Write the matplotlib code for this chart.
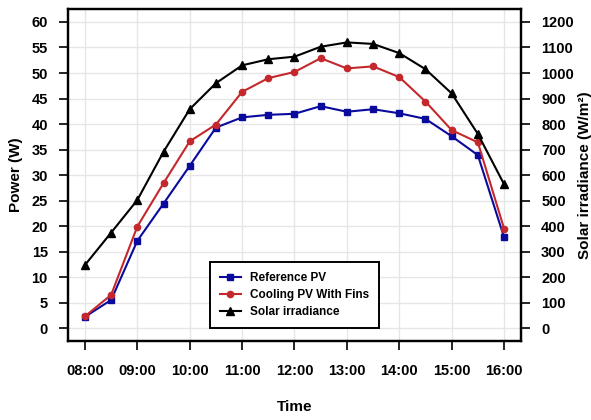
import matplotlib.pyplot as plt

plt.rcParams['font.family'] = ['Liberation Sans', 'DejaVu Sans']
plt.rcParams['font.weight'] = 'bold'

# half-hourly readings
times = ['08:00', '08:30', '09:00', '09:30', '10:00', '10:30', '11:00', '11:30',
         '12:00', '12:30', '13:00', '13:30', '14:00', '14:30', '15:00', '15:30', '16:00']
reference_pv = [2.2, 5.5, 17.1, 24.4, 31.8, 39.3, 41.3, 41.8, 42.0, 43.5,
                42.4, 42.9, 42.1, 41.0, 37.6, 33.9, 17.8]
cooling_pv = [2.3, 6.5, 19.9, 28.4, 36.6, 39.9, 46.3, 49.0, 50.2, 52.9,
              50.9, 51.3, 49.2, 44.4, 38.8, 36.4, 19.5]
irradiance = [247, 374, 502, 691, 858, 960, 1030, 1054, 1064, 1103,
              1120, 1114, 1078, 1015, 920, 761, 564]

hour_labels = ['08:00', '09:00', '10:00', '11:00', '12:00', '13:00', '14:00', '15:00', '16:00']


def to_hours(t):
    h, m = t.split(':')
    return int(h) + int(m) / 60


x = [to_hours(t) for t in times]
hour_ticks = [to_hours(t) for t in hour_labels]

fig = plt.figure(figsize=(5.91, 4.2), dpi=100)
ax = fig.add_axes([0.115, 0.188, 0.7666, 0.7906])
ax2 = ax.twinx()

ax.plot(x, reference_pv, color='#0a0a9c', marker='s', markersize=4.5, lw=1.5, label='Reference PV')
ax.plot(x, cooling_pv, color='#c4282c', marker='o', markersize=4.5, lw=1.5, label='Cooling PV With Fins')
ax2.plot(x, irradiance, color='black', marker='^', markersize=5.5, lw=1.5, label='Solar irradiance')

ax.set_xlim(7.676, 16.324)
ax.set_ylim(-2.55, 62.55)
ax2.set_ylim(-51, 1251)

ax.set_xticks(hour_ticks)
ax.set_xticklabels(hour_labels)
ax.set_yticks(range(0, 61, 5))
ax2.set_yticks(range(0, 1201, 100))

ax.grid(True, color='#e6e6e6', lw=1)
ax.set_axisbelow(True)

for a in (ax, ax2):
    for s in a.spines.values():
        s.set_linewidth(1.6)
    a.tick_params(axis='both', length=6.5, width=1.2, labelsize=10.5, pad=8)
ax.tick_params(axis='x', pad=10)

ax.set_ylabel('Power (W)', fontsize=11, fontweight='bold', labelpad=6)
ax2.set_ylabel('Solar irradiance (W/m²)', fontsize=11, fontweight='bold', labelpad=3)
ax.set_xlabel('Time', fontsize=11, fontweight='bold', labelpad=16)

h1, l1 = ax.get_legend_handles_labels()
h2, l2 = ax2.get_legend_handles_labels()
leg = ax2.legend(h1 + h2, l1 + l2, loc='lower center', bbox_to_anchor=(0.5, 0.02),
                 fancybox=False, framealpha=1, edgecolor='black', fontsize=8.5,
                 handlelength=1.8, borderpad=0.85, labelspacing=0.45)
leg.get_frame().set_linewidth(1.4)

fig.savefig('out.png', dpi=100)
